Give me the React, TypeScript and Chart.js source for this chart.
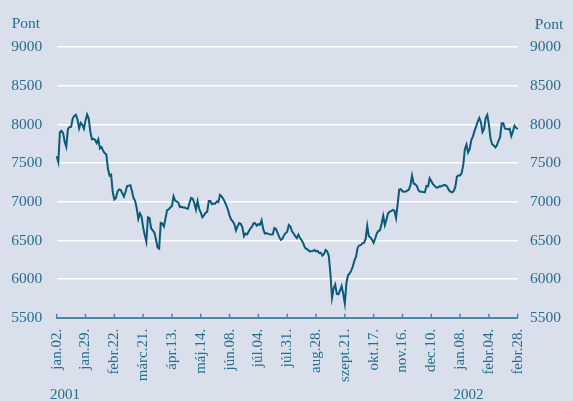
import React, { useEffect, useRef } from 'react';
import { Chart, registerables } from 'chart.js';

Chart.register(...registerables);

// Tick labels on the time axis (one every 18 trading days)
const tickLabels = [
  'jan.02.', 'jan.29.', 'febr.22.', 'márc.21.', 'ápr.13.', 'máj.14.', 'jún.08.', 'júl.04.', 'júl.31.',
  'aug.28.', 'szept.21.', 'okt.17.', 'nov.16.', 'dec.10.', 'jan.08.', 'febr.04.', 'febr.28.',
];
const daysPerTick = 18;
const yearLabels = ['2001', '2002'];
const yearTickIndex = [0, 14];
const unitLabel = 'Pont';
const yTicks = [5500, 6000, 6500, 7000, 7500, 8000, 8500, 9000];

// Daily index values (points)
const indexValues = [
  7590, 7515, 7900, 7920, 7890, 7775, 7711, 7940, 7968, 7970, 8077, 8110, 8125, 8065, 7950, 8022, 7997, 7945,
  8050, 8130, 8077, 7910, 7810, 7815, 7800, 7760, 7810, 7692, 7708, 7660, 7630, 7612, 7430, 7338, 7350, 7130,
  7030, 7050, 7135, 7160, 7152, 7110, 7068, 7130, 7204, 7210, 7215, 7140, 7048, 7013, 6916, 6780, 6850, 6810,
  6670, 6572, 6486, 6800, 6790, 6655, 6630, 6603, 6515, 6410, 6395, 6727, 6718, 6682, 6790, 6894, 6903, 6929,
  6945, 7070, 7015, 7004, 6990, 6932, 6935, 6928, 6926, 6915, 6910, 6990, 7050, 7040, 6980, 6900, 7010, 6910,
  6862, 6800, 6825, 6858, 6870, 7010, 7010, 6969, 6979, 6975, 7004, 6995, 7090, 7070, 7040, 7000, 6950, 6898,
  6822, 6770, 6748, 6710, 6630, 6685, 6725, 6716, 6670, 6555, 6590, 6578, 6620, 6654, 6678, 6723, 6722, 6690,
  6710, 6703, 6760, 6650, 6590, 6596, 6585, 6581, 6579, 6580, 6660, 6648, 6598, 6546, 6507, 6520, 6569, 6594,
  6612, 6700, 6680, 6620, 6590, 6555, 6530, 6575, 6532, 6504, 6466, 6410, 6390, 6379, 6357, 6360, 6363, 6378,
  6360, 6365, 6338, 6340, 6305, 6325, 6377, 6360, 6300, 6070, 5760, 5880, 5930, 5810, 5805, 5850, 5910, 5810,
  5686, 5950, 6050, 6075, 6110, 6165, 6240, 6290, 6405, 6437, 6440, 6462, 6470, 6520, 6690, 6555, 6540, 6510,
  6470, 6525, 6595, 6622, 6635, 6720, 6820, 6700, 6770, 6848, 6874, 6880, 6895, 6885, 6792, 6970, 7158, 7163,
  7136, 7131, 7133, 7146, 7157, 7215, 7340, 7237, 7226, 7205, 7150, 7131, 7131, 7126, 7123, 7205, 7200, 7305,
  7270, 7230, 7209, 7188, 7183, 7202, 7199, 7210, 7217, 7215, 7193, 7152, 7131, 7122, 7138, 7190, 7325, 7344,
  7341, 7372, 7480, 7680, 7740, 7637, 7684, 7800, 7844, 7914, 7972, 8035, 8085, 8030, 7902, 7943, 8085, 8125,
  8000, 7820, 7745, 7730, 7705, 7730, 7790, 7837, 8015, 8015, 7948, 7942, 7940, 7945, 7850, 7910, 7985, 7960,
  7940,
];

const categories = indexValues.map((_, i) => (i % daysPerTick === 0 ? tickLabels[i / daysPerTick] : ''));

const BG = '#d9e0eb';
const TEXT = '#2a6c8e';
const LINE = '#0b5a78';
const AXIS = '#4a87a3';
const FONT = "'Liberation Serif', 'Times New Roman', serif";

const decor = {
  id: 'decor',
  afterDraw(chart: any) {
    const { ctx, chartArea, scales } = chart;
    const xs = scales.x;
    ctx.save();
    ctx.strokeStyle = AXIS;
    ctx.lineWidth = 1.5;
    tickLabels.forEach((_, k) => {
      const px = xs.getPixelForValue(k * daysPerTick);
      ctx.beginPath();
      ctx.moveTo(px, chartArea.bottom);
      ctx.lineTo(px, chartArea.bottom - 4);
      ctx.stroke();
    });
    ctx.fillStyle = TEXT;
    ctx.font = `15.5px ${FONT}`;
    ctx.textBaseline = 'alphabetic';
    ctx.textAlign = 'left';
    ctx.fillText(unitLabel, chartArea.left - 45, 28);
    ctx.textAlign = 'right';
    ctx.fillText(unitLabel, chartArea.right + 45.5, 29);
    ctx.textAlign = 'left';
    ctx.font = `15px ${FONT}`;
    yearLabels.forEach((t, k) => {
      const px = xs.getPixelForValue(yearTickIndex[k] * daysPerTick);
      ctx.fillText(t, px - 6.7, 399);
    });
    ctx.restore();
  },
};

const plainNumber = (v: any) => String(v);

export default function App() {
  const ref = useRef<HTMLCanvasElement>(null);
  useEffect(() => {
    const chart = new Chart(ref.current!, {
      type: 'line',
      data: {
        labels: categories,
        datasets: [
          {
            data: indexValues,
            borderColor: LINE,
            borderWidth: 2,
            pointRadius: 0,
            tension: 0,
            fill: false,
            yAxisID: 'y',
          },
        ],
      },
      options: {
        animation: false,
        responsive: true,
        maintainAspectRatio: false,
        layout: { padding: { top: 47.2, left: 0, right: 0, bottom: 0 } },
        plugins: { legend: { display: false }, tooltip: { enabled: false } },
        scales: {
          x: {
            type: 'category',
            offset: false,
            grid: { display: false, drawOnChartArea: false, drawTicks: false },
            border: { display: true, color: AXIS, width: 2 },
            ticks: {
              autoSkip: false,
              maxRotation: 90,
              minRotation: 90,
              padding: 11,
              color: TEXT,
              font: { family: FONT, size: 15 },
              callback: (_v: any, i: number) => (categories[i] ? categories[i] : null),
            },
            afterFit: (s: any) => {
              s.height = 83.2;
            },
          },
          y: {
            position: 'left',
            min: 5500,
            max: 9000,
            afterBuildTicks: (s: any) => {
              s.ticks = yTicks.map((v) => ({ value: v }));
            },
            grid: {
              color: (c: any) => (c.tick && c.tick.value === 5500 ? 'rgba(0,0,0,0)' : '#ffffff'),
              lineWidth: 1.6,
              drawTicks: false,
            },
            border: { display: false },
            ticks: { padding: 14.4, color: TEXT, font: { family: FONT, size: 15.5 }, callback: plainNumber },
            afterFit: (s: any) => {
              s.width = 56.7;
            },
          },
          y2: {
            position: 'right',
            min: 5500,
            max: 9000,
            afterBuildTicks: (s: any) => {
              s.ticks = yTicks.map((v) => ({ value: v }));
            },
            grid: { drawOnChartArea: false, drawTicks: false },
            border: { display: false },
            ticks: { padding: 12.3, color: TEXT, font: { family: FONT, size: 15.5 }, callback: plainNumber },
            afterFit: (s: any) => {
              s.width = 573 - 517.7;
            },
          },
        },
      },
      plugins: [decor],
    });
    return () => chart.destroy();
  }, []);
  return (
    <div style={{ position: 'absolute', left: 0, top: 0, width: 573, height: 401, background: BG }}>
      <canvas ref={ref} />
    </div>
  );
}
